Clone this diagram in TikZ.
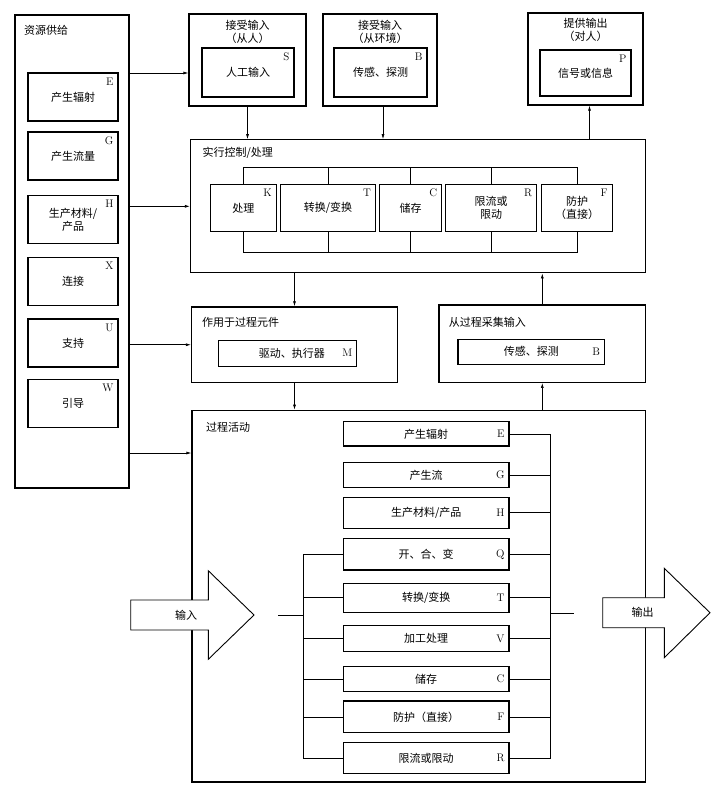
\documentclass[tikz,border=0pt]{standalone}
\usepackage{fontspec}
\newfontfamily\cjk{Noto Sans CJK SC}
\usetikzlibrary{arrows.meta}

\begin{document}
\begin{tikzpicture}[
  x=1pt, y=-1pt,
  every node/.style={font=\cjk\fontsize{11}{13}\selectfont},
  panel/.style={rectangle, draw, line width=1.2pt, inner sep=0pt},
  func/.style={rectangle, draw, line width=1.2pt, inner sep=0pt, align=center},
  letter/.style={font=\rmfamily\fontsize{11}{11}\selectfont, inner sep=5pt},
  heading/.style={anchor=west, inner sep=0pt},
  arrow/.style={-{Latex[length=5pt,width=3pt]}, line width=0.7pt},
  bus/.style={line width=0.7pt},
  bigarrow/.style={draw, fill=white, line width=0.9pt}
]
\useasboundingbox (0,0) rectangle (718,796);

% Resource supply column
\node[panel, minimum width=114pt, minimum height=473pt] (res) at (72,251.5) {};
\node[heading] (res_t) at (24,30) {资源供给};
\node[func, minimum width=90pt, minimum height=48pt, label={[letter, anchor=north east]north east:E}] (rE) at (73,97) {产生辐射};
\node[func, minimum width=90pt, minimum height=48pt, label={[letter, anchor=north east]north east:G}] (rG) at (73,156) {产生流量};
\node[func, minimum width=90pt, minimum height=48pt, label={[letter, anchor=north east]north east:H}] (rH) at (73,219.5) {生产材料/\\产品};
\node[func, minimum width=90pt, minimum height=48pt, label={[letter, anchor=north east]north east:X}] (rX) at (73,281.5) {连接};
\node[func, minimum width=90pt, minimum height=48pt, label={[letter, anchor=north east]north east:U}] (rU) at (73,343) {支持};
\node[func, minimum width=90pt, minimum height=48pt, label={[letter, anchor=north east]north east:W}] (rW) at (73,403.5) {引导};

% Input from human / environment, output to human
\node[panel, minimum width=117pt, minimum height=92pt] (human) at (247.5,60) {};
\node[align=center, inner sep=0pt] (human_t) at (247.5,31.5) {接受输入\\（从人）};
\node[func, minimum width=92pt, minimum height=49pt, label={[letter, anchor=north east]north east:S}] (hS) at (248,72.5) {人工输入};

\node[panel, minimum width=114pt, minimum height=92pt] (env) at (380,60) {};
\node[align=center, inner sep=0pt] (env_t) at (380,31.5) {接受输入\\（从环境）};
\node[func, minimum width=93pt, minimum height=49pt, label={[letter, anchor=north east]north east:B}] (eB) at (380.5,72.5) {传感、探测};

\node[panel, minimum width=115pt, minimum height=92pt] (out) at (585.5,59) {};
\node[align=center, inner sep=0pt] (out_t) at (585.5,30) {提供输出\\（对人）};
\node[func, minimum width=91pt, minimum height=46pt, label={[letter, anchor=north east]north east:P}] (oP) at (585.5,73) {信号或信息};

% Control / processing
\node[panel, minimum width=455pt, minimum height=133pt] (ctrl) at (418,206.3) {};
\node[heading] (ctrl_t) at (202.4,153) {实行控制/处理};
\node[func, minimum width=66pt, minimum height=47pt, label={[letter, anchor=north east]north east:K}] (cK) at (243.4,208) {处理};
\node[func, minimum width=95pt, minimum height=47pt, label={[letter, anchor=north east]north east:T}] (cT) at (328,208) {转换/变换};
\node[func, minimum width=62pt, minimum height=47pt, label={[letter, anchor=north east]north east:C}] (cC) at (410.7,208) {储存};
\node[func, minimum width=91.5pt, minimum height=47pt, label={[letter, anchor=north east]north east:R}] (cR) at (491,208) {限流或\\限动};
\node[func, minimum width=70.6pt, minimum height=47pt, label={[letter, anchor=north east]north east:F}] (cF) at (577,208) {防护\\（直接）};

\coordinate (cbt) at (0,167.2);
\coordinate (cbb) at (0,252.2);
\draw[bus] (cK.north) |- (cF.north |- cbt) -- (cF.north);
\draw[bus] (cK.south) |- (cF.south |- cbb) -- (cF.south);
\foreach \b in {cT,cC,cR} {
  \draw[bus] (\b.north) -- (\b.north |- cbt);
  \draw[bus] (\b.south) -- (\b.south |- cbb);
}

% Acting on / sensing the process
\node[panel, minimum width=206pt, minimum height=75.7pt] (act) at (294.5,344.75) {};
\node[heading] (act_t) at (202,322) {作用于过程元件};
\node[func, minimum width=138pt, minimum height=26pt, label={[letter, anchor=east]east:M}] (aM) at (287.8,353.2) {\hspace{8pt}驱动、执行器};

\node[panel, minimum width=206.6pt, minimum height=77.3pt] (sense) at (542.3,343.7) {};
\node[heading] (sense_t) at (448.6,322) {从过程采集输入};
\node[func, minimum width=146.6pt, minimum height=25.2pt, label={[letter, anchor=east]east:B}] (sB) at (531.3,351.8) {传感、探测};

% Process activities
\node[panel, minimum width=453.5pt, minimum height=371.7pt] (proc) at (418.75,596.15) {};
\node[heading] (proc_t) at (205.8,427.5) {过程活动};
\node[func, minimum width=165.7pt, minimum height=24.3pt, label={[letter, anchor=east]east:E}] (pE) at (426.2,433.9) {产生辐射};
\node[func, minimum width=165.7pt, minimum height=25pt, label={[letter, anchor=east]east:G}] (pG) at (426.2,475.2) {产生流};
\node[func, minimum width=165.7pt, minimum height=31pt, label={[letter, anchor=east]east:H}] (pH) at (426.2,512.8) {生产材料/产品};
\node[func, minimum width=165.7pt, minimum height=31.7pt, label={[letter, anchor=east]east:Q}] (pQ) at (426.2,554.2) {开、合、变};
\node[func, minimum width=165.7pt, minimum height=29pt, label={[letter, anchor=east]east:T}] (pT) at (426.2,597.8) {转换/变换};
\node[func, minimum width=165.7pt, minimum height=26pt, label={[letter, anchor=east]east:V}] (pV) at (426.2,638.7) {加工处理};
\node[func, minimum width=165.7pt, minimum height=25pt, label={[letter, anchor=east]east:C}] (pC) at (426.2,679.2) {储存};
\node[func, minimum width=165.7pt, minimum height=31.7pt, label={[letter, anchor=east]east:F}] (pF) at (426.2,716.9) {防护（直接）};
\node[func, minimum width=165.7pt, minimum height=30.6pt, label={[letter, anchor=east]east:R}] (pR) at (426.2,758) {限流或限动};

\coordinate (prb) at (550,0);
\coordinate (plb) at (303.3,0);
\draw[bus] (pE.east) -| (prb |- pR.east) -- (pR.east);
\foreach \b in {pG,pH,pQ,pT,pV,pC,pF}
  \draw[bus] (\b.east) -- (\b.east -| prb);
\draw[bus] (pQ.west) -| (plb |- pR.west) -- (pR.west);
\foreach \b in {pT,pV,pC,pF}
  \draw[bus] (\b.west) -- (\b.west -| plb);
\coordinate (pin) at (278.3,615);
\coordinate (pout) at (574.3,613);
\draw[bus] (pin) -- (pin -| plb);
\draw[bus] (pout -| prb) -- (pout);

% Big input / output arrows
\draw[bigarrow] (130.7,600) -- (208.3,600) -- (208.3,570.7) -- (254,615)
  -- (208.3,659.3) -- (208.3,630) -- (130.7,630) -- cycle;
\node (in_t) at (186,615) {输入};
\draw[bigarrow] (602.7,597.7) -- (664.3,597.7) -- (664.3,568.3) -- (710,612.7)
  -- (664.3,657.7) -- (664.3,627.7) -- (602.7,627.7) -- cycle;
\node (out_a) at (642.7,612.7) {输出};

% Connectors
\coordinate (sup1) at (0,73);
\coordinate (sup4) at (0,453);
\draw[arrow] (res.east |- sup1) -- (human.west |- sup1);
\draw[arrow] (res.east |- ctrl.west) -- (ctrl.west);
\draw[arrow] (res.east |- act.west) -- (act.west);
\draw[arrow] (res.east |- sup4) -- (proc.west |- sup4);
\draw[arrow] (human.south) -- (human.south |- ctrl.north);
\draw[arrow] ([xshift=3pt]env.south) -- ([xshift=3pt]env.south |- ctrl.north);
\draw[arrow] ([xshift=4pt]ctrl.north -| out.south) -- ([xshift=4pt]out.south);
\draw[arrow] (ctrl.south -| act.north) -- (act.north);
\draw[arrow] (act.south) -- (act.south |- proc.north);
\draw[arrow] (sense.north) -- (sense.north |- ctrl.south);
\draw[arrow] (proc.north -| sense.south) -- (sense.south);

\end{tikzpicture}
\end{document}
